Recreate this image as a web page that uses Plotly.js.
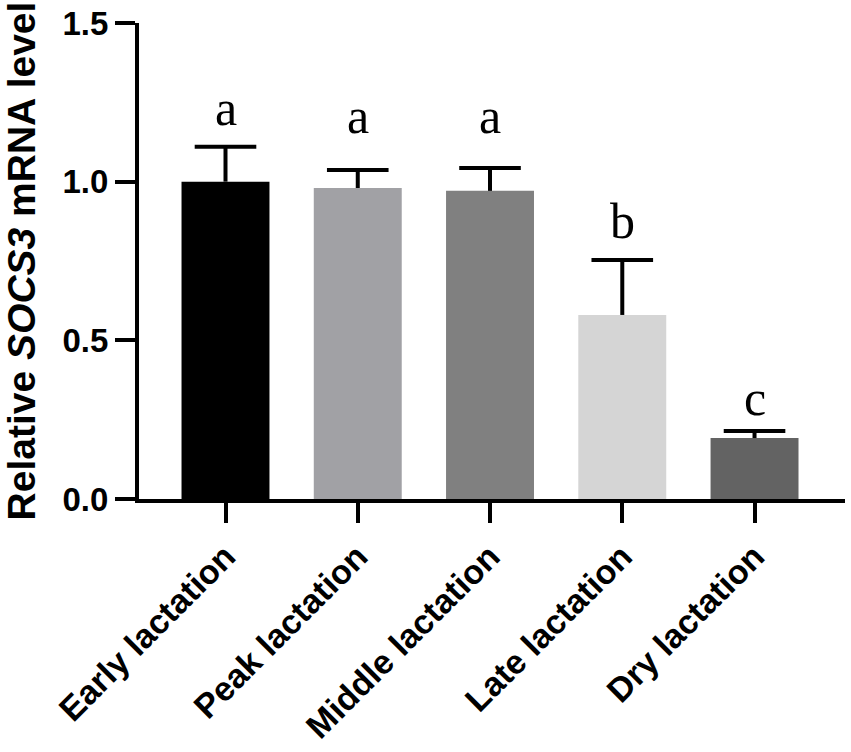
<!DOCTYPE html>
<html>
<head>
<meta charset="utf-8">
<script src="https://cdn.plot.ly/plotly-3.0.1.min.js"></script>
<style>html,body{margin:0;padding:0;background:#fff;}#chart{width:851px;height:752px;}</style>
</head>
<body>
<div id="chart"></div>
<script>
const categories = ["Early lactation", "Peak lactation", "Middle lactation", "Late lactation", "Dry lactation"];
const means = [1.0, 0.98, 0.971, 0.58, 0.192];
const sems = [0.11, 0.057, 0.072, 0.173, 0.022];
const letters = ["a", "a", "a", "b", "c"];
const letterHeights = [1.179, 1.153, 1.153, 0.823, 0.265];
const barColors = ["#000000", "#a1a1a5", "#808080", "#d5d5d5", "#636363"];
const yTickVals = [0, 0.5, 1.0, 1.5];
const yTickText = ["0.0", "0.5", "1.0", "1.5"];

const sansBold = {family: "Arial, 'Liberation Sans', sans-serif", weight: "bold", color: "#000"};

const barTrace = {
  type: "bar",
  x: categories,
  y: means,
  width: 0.665,
  marker: {color: barColors, line: {width: 0}},
  error_y: {
    type: "data", symmetric: false, array: sems,
    arrayminus: sems.map(() => 0),
    thickness: 4, width: 0, color: "#000"
  },
  hoverinfo: "none"
};

const capTrace = {
  type: "scatter",
  mode: "markers",
  x: categories,
  y: means.map((m, i) => m + sems[i]),
  marker: {symbol: "line-ew", size: 44, color: "#000", line: {width: 4, color: "#000"}},
  hoverinfo: "none"
};

const annotations = categories.map((c, i) => ({
  x: c, y: letterHeights[i], xref: "x", yref: "y",
  text: letters[i], showarrow: false, yanchor: "bottom", yshift: -13,
  font: {family: "'Times New Roman', 'Liberation Serif', serif", size: 50, color: "#000"}
}));

const layout = {
  width: 851, height: 752,
  margin: {l: 139, r: 6, t: 23, b: 253},
  paper_bgcolor: "#fff", plot_bgcolor: "#fff",
  showlegend: false,
  xaxis: {
    type: "category",
    range: [-0.654, 4.684],
    showline: true, linewidth: 4, linecolor: "#000",
    ticks: "outside", ticklen: 20, tickwidth: 4, tickcolor: "#000",
    tickangle: -45,
    tickfont: Object.assign({size: 34}, sansBold),
    showgrid: false, zeroline: false, fixedrange: true
  },
  yaxis: {
    range: [0, 1.5],
    tickvals: yTickVals, ticktext: yTickText,
    showline: true, linewidth: 4, linecolor: "#000",
    ticks: "outside", ticklen: 20, tickwidth: 4, tickcolor: "#000",
    tickfont: Object.assign({size: 33}, sansBold),
    showgrid: false, zeroline: false, fixedrange: true,
    title: {text: "Relative <i>SOCS3</i> mRNA level", font: Object.assign({size: 39}, sansBold), standoff: 18}
  },
  annotations: annotations
};

Plotly.newPlot("chart", [barTrace, capTrace], layout, {displayModeBar: false, staticPlot: true});
</script>
</body>
</html>
